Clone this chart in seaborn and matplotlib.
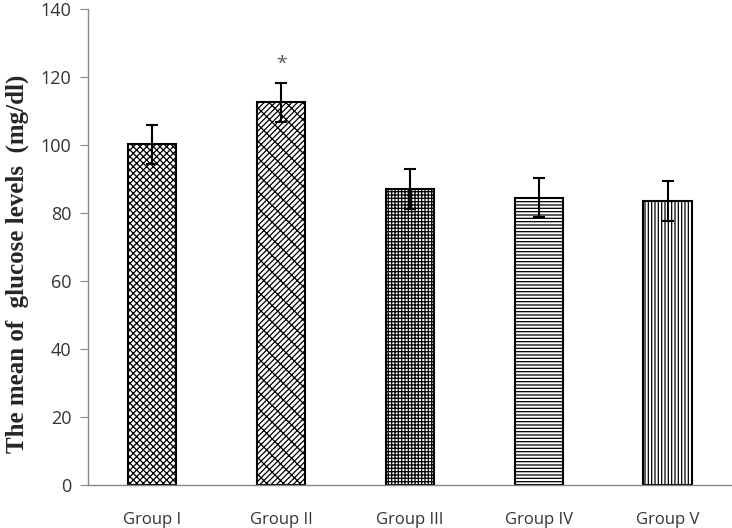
import pandas as pd
import numpy as np
import matplotlib
matplotlib.use("Agg")
import matplotlib.pyplot as plt
import seaborn as sns

# data
groups = ["Group I", "Group II", "Group III", "Group IV", "Group V"]
glucose = [100.2, 112.5, 87.0, 84.5, 83.5]
sem = [5.8, 5.7, 5.9, 5.8, 5.8]
hatches = ["xxxxx", "xx////", "+++++", "-----", "|||||"]
star_group = "Group II"

df = pd.DataFrame({"group": groups, "glucose": glucose, "sem": sem})

sns.set_style("white")
plt.rcParams["font.family"] = ["Open Sans", "DejaVu Sans"]
plt.rcParams["hatch.linewidth"] = 0.9

fig, ax = plt.subplots(figsize=(7.32, 5.28), dpi=100)
sns.barplot(data=df, x="group", y="glucose", color="white", edgecolor="black",
            linewidth=1.5, width=0.375, errorbar=None, ax=ax)

for bar, h in zip(ax.patches, hatches):
    bar.set_hatch(h)

x = np.arange(len(groups))
ax.errorbar(x, df["glucose"], yerr=df["sem"], fmt="none", ecolor="black",
            elinewidth=1.5, capsize=4, capthick=1.5)

i = groups.index(star_group)
ax.text(i, df["glucose"][i] + df["sem"][i] + 3, "*", ha="center", va="bottom",
        fontsize=14, color="#555555")

ax.set_ylim(0, 140)
ax.set_yticks(range(0, 141, 20))
ax.set_xlim(-0.5, 4.5)
ax.set_xlabel("")
ax.set_ylabel("The mean of  glucose levels  (mg/dl)", fontsize=18,
              fontweight="bold", family=["Liberation Serif", "DejaVu Serif"])
ax.yaxis.set_label_coords(-0.092, 0.465)

for s in ["top", "right"]:
    ax.spines[s].set_visible(False)
for s in ["left", "bottom"]:
    ax.spines[s].set_color("#888888")
    ax.spines[s].set_linewidth(1)

ax.tick_params(axis="y", left=True, length=6, color="#888888", labelsize=13,
               labelcolor="#333333", pad=6)
ax.tick_params(axis="x", bottom=False, labelsize=12, labelcolor="#333333", pad=16)

fig.subplots_adjust(left=0.12, right=1.0, top=0.983, bottom=0.082)
fig.savefig("out.png", dpi=100)
